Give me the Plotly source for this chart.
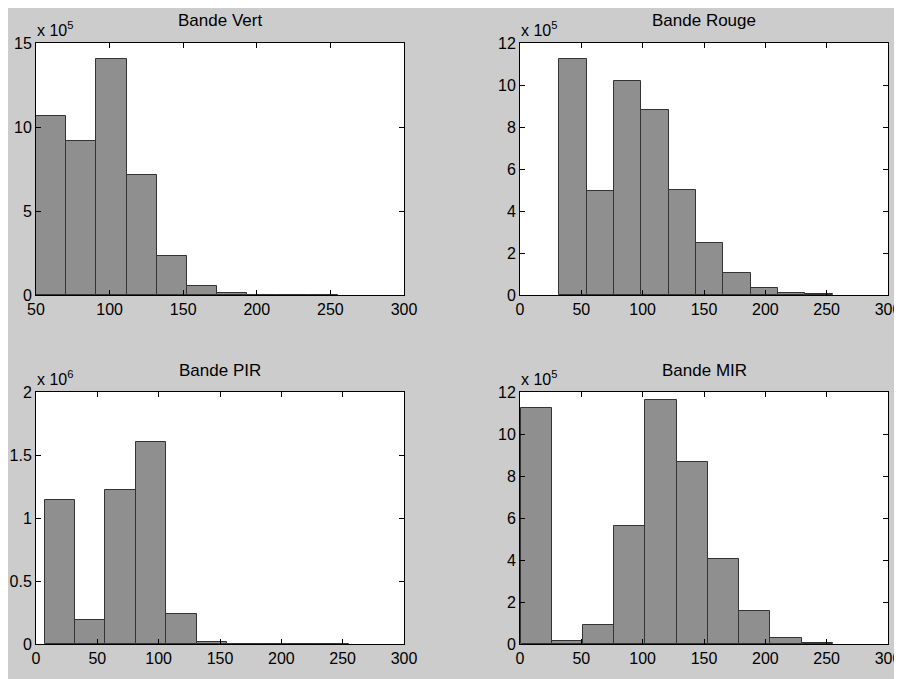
import numpy as np
import plotly.graph_objects as go

# ---------------- data ----------------
titles = ["Bande Vert", "Bande Rouge", "Bande PIR", "Bande MIR"]

# data range of each histogram (min, max) -> 10 equal bins (MATLAB hist)
vert_range = (50, 255)
rouge_range = (32, 255)
pir_range = (7, 255)
mir_range = (0.5, 255)

# bin counts, in units of the axis multiplier
vert_counts = [10.67, 9.17, 14.07, 7.12, 2.34, 0.56, 0.14, 0.03, 0.02, 0.01]      # x 10^5
rouge_counts = [11.25, 4.97, 10.17, 8.83, 5.00, 2.49, 1.06, 0.33, 0.11, 0.06]     # x 10^5
pir_counts = [1.142, 0.188, 1.221, 1.605, 0.236, 0.013, 0.004, 0.003, 0.003, 0.003]  # x 10^6
mir_counts = [11.25, 0.14, 0.91, 5.63, 11.63, 8.68, 4.05, 1.56, 0.30, 0.05]      # x 10^5

exponents = [5, 5, 6, 5]
x_ranges = [(50, 300), (0, 300), (0, 300), (0, 300)]
y_ranges = [(0, 15), (0, 12), (0, 2), (0, 12)]
y_dticks = [5, 2, 0.5, 2]
x_dtick = 50

ranges = [vert_range, rouge_range, pir_range, mir_range]
counts = [vert_counts, rouge_counts, pir_counts, mir_counts]

# ---------------- layout geometry (pixels, figure coordinates) ----------------
W, H = 894, 671
boxes = [  # (left, right, top, bottom)
    (28, 396, 35, 287),
    (512, 880, 35, 287),
    (28, 396, 384, 636),
    (512, 880, 384, 636),
]


def px(x):
    return x / W


def py(y):
    return 1 - y / H


FONT = "Liberation Sans, Arial, Helvetica, sans-serif"
BG = "#cccccc"
BAR = "#8f8f8f"
EDGE = "#333333"

fig = go.Figure()
annotations = []

for i in range(4):
    lo, hi = ranges[i]
    edges = np.linspace(lo, hi, len(counts[i]) + 1)
    centers = (edges[:-1] + edges[1:]) / 2
    widths = np.diff(edges)
    xa = "x" if i == 0 else f"x{i+1}"
    ya = "y" if i == 0 else f"y{i+1}"
    fig.add_trace(go.Bar(
        x=centers, y=counts[i], width=widths,
        marker=dict(color=BAR, line=dict(color=EDGE, width=1)),
        xaxis=xa, yaxis=ya, showlegend=False, hoverinfo="skip",
    ))
    l, r, t, b = boxes[i]
    axis_common = dict(
        showline=True, linecolor="black", linewidth=1, mirror="ticks",
        ticks="inside", ticklen=5, tickcolor="black", tickwidth=1,
        showgrid=False, zeroline=False, automargin=False,
        tickfont=dict(family=FONT, size=16, color="black"),
    )
    fig.layout[f"xaxis{'' if i == 0 else i+1}"] = dict(
        domain=[px(l), px(r)], anchor=ya, range=list(x_ranges[i]),
        tick0=0, dtick=x_dtick, **axis_common)
    fig.layout[f"yaxis{'' if i == 0 else i+1}"] = dict(
        domain=[py(b), py(t)], anchor=xa, range=list(y_ranges[i]),
        tick0=0, dtick=y_dticks[i], **axis_common)
    annotations.append(dict(
        text=titles[i], xref="paper", yref="paper",
        x=px((l + r) / 2), y=py(t - 22), xanchor="center", yanchor="middle",
        showarrow=False, font=dict(family=FONT, size=17, color="black")))
    annotations.append(dict(
        text=f"x 10<sup>{exponents[i]}</sup>", xref="paper", yref="paper",
        x=px(l - 1), y=py(t - 2), xanchor="left", yanchor="bottom",
        showarrow=False, font=dict(family=FONT, size=16, color="black")))

fig.update_layout(
    width=W, height=H,
    margin=dict(l=0, r=0, t=0, b=0),
    paper_bgcolor=BG, plot_bgcolor="white",
    bargap=0,
    annotations=annotations,
)

fig.write_html("out.html")
